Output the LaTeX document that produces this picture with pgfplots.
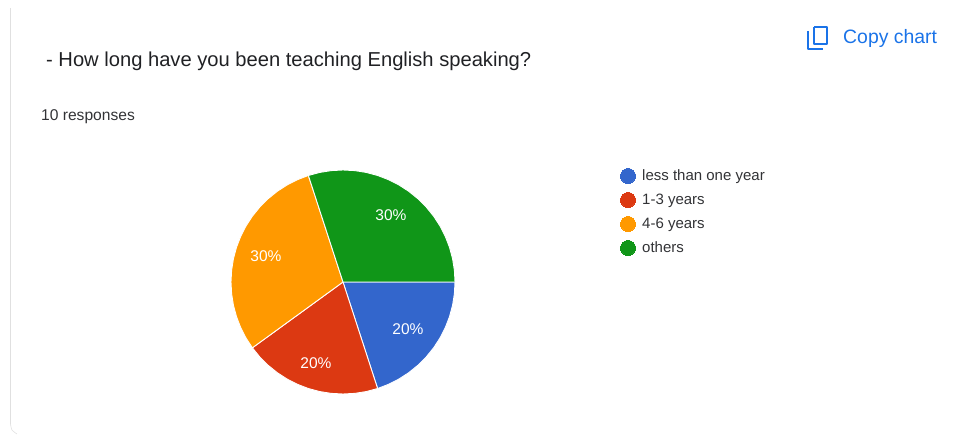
\documentclass[border=0pt]{standalone}
\usepackage{pgfplots}
\pgfplotsset{compat=1.18}
\usepackage{fontspec}
\setmainfont{Liberation Sans}
\definecolor{cblue}{HTML}{3366CC}
\definecolor{cred}{HTML}{DC3912}
\definecolor{corange}{HTML}{FF9900}
\definecolor{cgreen}{HTML}{109618}
\definecolor{ctext}{HTML}{202124}
\definecolor{clink}{HTML}{1A73E8}
\begin{document}
\begin{tikzpicture}
\begin{axis}[
  scale only axis, width=961pt, height=436pt,
  xmin=-343, xmax=618, ymin=-154, ymax=282,
  hide axis, clip=false, axis equal=false,
]
% card edge
\addplot[draw=black!12, line width=1.2pt, forget plot] coordinates {(-332.5,274)(-332.5,-142)};
\addplot[draw=black!12, line width=0.6pt, forget plot, smooth] coordinates {(-332.5,-142)(-331,-148)(-326,-152)};
% pie wedges (angle, radius)
\addplot[data cs=polar, fill=cblue, draw=white, line width=0.9pt, line join=round] coordinates {(0,0)(0,112)(-6,112)(-12,112)(-18,112)(-24,112)(-30,112)(-36,112)(-42,112)(-48,112)(-54,112)(-60,112)(-66,112)(-72,112)(0,0)};
\addplot[data cs=polar, fill=cred, draw=white, line width=0.9pt, line join=round] coordinates {(0,0)(-72,112)(-78,112)(-84,112)(-90,112)(-96,112)(-102,112)(-108,112)(-114,112)(-120,112)(-126,112)(-132,112)(-138,112)(-144,112)(0,0)};
\addplot[data cs=polar, fill=corange, draw=white, line width=0.9pt, line join=round] coordinates {(0,0)(-144,112)(-150,112)(-156,112)(-162,112)(-168,112)(-174,112)(-180,112)(-186,112)(-192,112)(-198,112)(-204,112)(-210,112)(-216,112)(-222,112)(-228,112)(-234,112)(-240,112)(-246,112)(-252,112)(0,0)};
\addplot[data cs=polar, fill=cgreen, draw=white, line width=0.9pt, line join=round] coordinates {(0,0)(108,112)(102,112)(96,112)(90,112)(84,112)(78,112)(72,112)(66,112)(60,112)(54,112)(48,112)(42,112)(36,112)(30,112)(24,112)(18,112)(12,112)(6,112)(0,112)(0,0)};
% legend markers
\addplot[only marks, mark=*, mark size=7.5pt, mark options={draw=cblue, fill=cblue, line width=0pt}] coordinates {(285,106)};
\addplot[only marks, mark=*, mark size=7.5pt, mark options={draw=cred, fill=cred, line width=0pt}] coordinates {(285,82)};
\addplot[only marks, mark=*, mark size=7.5pt, mark options={draw=corange, fill=corange, line width=0pt}] coordinates {(285,58)};
\addplot[only marks, mark=*, mark size=7.5pt, mark options={draw=cgreen, fill=cgreen, line width=0pt}] coordinates {(285,34)};
% legend text
\node[anchor=base west, font=\fontsize{15}{15}\selectfont, text=ctext!92!white, inner sep=0pt] at (axis cs:299,101) {less than one year};
\node[anchor=base west, font=\fontsize{15}{15}\selectfont, text=ctext!92!white, inner sep=0pt] at (axis cs:299,77) {1-3 years};
\node[anchor=base west, font=\fontsize{15}{15}\selectfont, text=ctext!92!white, inner sep=0pt] at (axis cs:299,53) {4-6 years};
\node[anchor=base west, font=\fontsize{15}{15}\selectfont, text=ctext!92!white, inner sep=0pt] at (axis cs:299,29) {others};
% slice labels
\node[font=\fontsize{15.5}{15.5}\selectfont, text=white, inner sep=0pt] at (axis cs:65,-47) {20\%};
\node[font=\fontsize{15.5}{15.5}\selectfont, text=white, inner sep=0pt] at (axis cs:-27,-81) {20\%};
\node[font=\fontsize{15.5}{15.5}\selectfont, text=white, inner sep=0pt] at (axis cs:-77,26) {30\%};
\node[font=\fontsize{15.5}{15.5}\selectfont, text=white, inner sep=0pt] at (axis cs:48,67) {30\%};
% titles
\node[anchor=base west, font=\fontsize{20.15}{20.15}\selectfont, text=ctext, inner sep=0pt] at (axis cs:-297,215) {- How long have you been teaching English speaking?};
\node[anchor=base west, font=\fontsize{15.6}{15.6}\selectfont, text=ctext!92!white, inner sep=0pt] at (axis cs:-302,161) {10 responses};
\node[anchor=base west, font=\fontsize{19.4}{19.4}\selectfont, text=clink, inner sep=0pt] at (axis cs:500,238) {Copy chart};
% copy icon
\addplot[draw=clink, line width=2.2pt, line join=round, forget plot] coordinates {(465,251)(465,233)(480,233)};
\addplot[draw=clink, line width=2.2pt, line join=round, forget plot] coordinates {(471,255)(471,238)(484,238)(484,255)(471,255)};
\end{axis}
\pgfresetboundingbox
\path[use as bounding box] (0,0) rectangle (961pt,436pt);
\end{tikzpicture}
\end{document}
